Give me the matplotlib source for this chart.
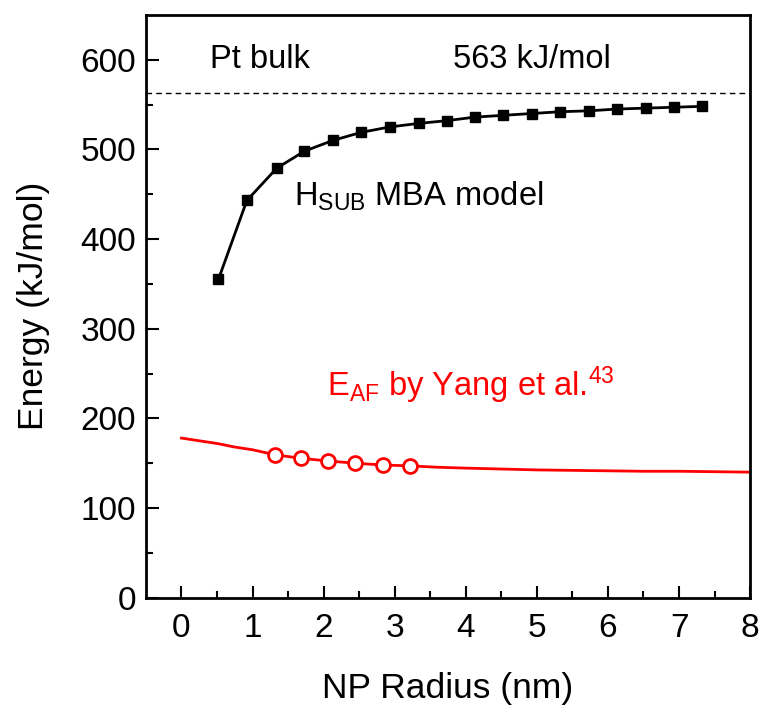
import matplotlib
matplotlib.use('Agg')
import matplotlib.pyplot as plt

plt.rcParams['font.family'] = ['Liberation Sans', 'DejaVu Sans']
plt.rcParams['mathtext.fontset'] = 'custom'
plt.rcParams['mathtext.rm'] = 'Liberation Sans'
plt.rcParams['mathtext.it'] = 'Liberation Sans:italic'

# MBA model (black squares)
mba_r = [0.52, 0.92, 1.34, 1.73, 2.13, 2.53, 2.93, 3.34, 3.73, 4.13,
         4.53, 4.93, 5.33, 5.73, 6.13, 6.53, 6.93, 7.33]
mba_e = [355, 443, 479, 498, 510, 519, 525, 529, 532, 536,
         538, 540, 542, 543, 545, 546, 547, 548]

# Yang et al. curve and points (red)
yang_curve_r = [0, 0.25, 0.5, 0.75, 1.0, 1.31, 1.68, 2.06, 2.44, 2.83, 3.22,
                3.6, 4.0, 4.5, 5.0, 5.5, 6.0, 6.5, 7.0, 7.5, 8.0]
yang_curve_e = [178, 175, 172, 168, 165, 159.5, 155.5, 152.5, 150, 148, 147,
                145.5, 144.5, 143.5, 142.5, 142, 141.5, 141, 141, 140.5, 140]
yang_pts_r = [1.31, 1.68, 2.06, 2.44, 2.83, 3.22]
yang_pts_e = [159.5, 155.5, 152.5, 150, 148, 147]

bulk = 563

fig = plt.figure(figsize=(7.6, 7.09), dpi=100)
ax = fig.add_axes([0.192, 0.157, 0.795, 0.822])

ax.axhline(bulk, color='black', linestyle=(0, (4, 3)), linewidth=1)
ax.plot(yang_curve_r, yang_curve_e, color='red', linewidth=2)
ax.plot(yang_pts_r, yang_pts_e, 'o', color='red', markerfacecolor='white',
        markersize=10, markeredgewidth=2)
ax.plot(mba_r, mba_e, '-s', color='black', linewidth=2, markersize=7.5)

ax.text(0.4, 600, 'Pt bulk', fontsize=23.5, va='center')
ax.text(3.82, 600, '563 kJ/mol', fontsize=23.5, va='center')
ax.text(1.58, 448, r'H$_{\mathrm{SUB}}$ MBA model', fontsize=23.5, va='center')
ax.text(2.05, 237, r'E$_{\mathrm{AF}}$ by Yang et al.$^{\mathrm{43}}$', fontsize=23.5,
        va='center', color='red')

ax.set_xlim(-0.5, 8)
ax.set_ylim(0, 650)
ax.set_xticks(range(0, 9))
ax.set_xticks([x + 0.5 for x in range(0, 8)], minor=True)
ax.set_yticks(range(0, 700, 100))
ax.set_yticks(range(50, 650, 100), minor=True)
ax.tick_params(which='both', direction='in', width=1.5, labelsize=24,
               top=False, right=False)
ax.tick_params(which='major', length=9)
ax.tick_params(which='minor', length=5)
ax.tick_params(axis='x', pad=11)
ax.tick_params(axis='y', pad=7)
for s in ax.spines.values():
    s.set_linewidth(2)

ax.set_xlabel('NP Radius (nm)', fontsize=25.5, labelpad=20)
ax.set_ylabel('Energy (kJ/mol)', fontsize=25.5, labelpad=22)

fig.savefig('out.png', dpi=100)
